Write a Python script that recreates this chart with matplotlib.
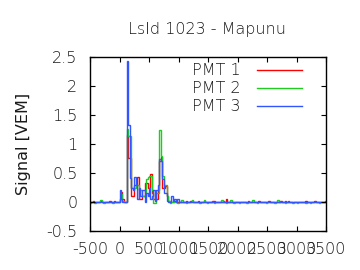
import numpy as np
import matplotlib
matplotlib.use("Agg")
import matplotlib.pyplot as plt

title = "LsId 1023 - Mapunu"
ylabel = "Signal [VEM]"
labels = ["PMT 1", "PMT 2", "PMT 3"]
colors = ["#ff0000", "#1fcc1f", "#3355ff"]

t_start = -500
bin_width = 25

# 160 bins of 25 ns from -500 to 3500
pmt1 = [
    0.00, 0.00, 0.02, 0.00, 0.00, 0.00, 0.00, 0.02, 0.00, 0.00, 0.00, 0.00, 0.00, 0.02, 0.00, 0.00, 0.02, 0.00, 0.00, 0.00,
    0.05, 0.17, 0.05, 0.00, 0.00, 1.15, 0.76, 0.76, 0.10, 0.10, 0.30, 0.30, 0.43, 0.05, 0.05, 0.10, 0.10, 0.33, 0.33, 0.25,
    0.25, 0.48, 0.15, 0.05, 0.05, 0.05, 0.20, 0.70, 0.78, 0.25, 0.25, 0.28, 0.10, 0.02, 0.00, 0.00, 0.00, 0.02, 0.00, 0.00,
    0.00, 0.00, 0.00, 0.00, 0.00, 0.02, 0.00, 0.00, 0.02, 0.02, 0.00, 0.00, 0.00, 0.02, 0.00, 0.00, 0.00, 0.02, 0.00, 0.00,
    0.00, 0.00, 0.00, 0.02, 0.02, 0.00, 0.00, 0.00, 0.00, 0.00, 0.02, 0.00, 0.05, 0.00, 0.00, 0.00, 0.00, 0.00, 0.00, 0.00,
    0.00, 0.00, 0.00, 0.00, 0.00, 0.00, 0.00, 0.02, 0.00, 0.00, 0.00, 0.00, 0.00, 0.00, 0.02, 0.00, 0.00, 0.00, 0.00, 0.00,
    0.00, 0.02, 0.00, 0.00, 0.00, 0.00, 0.00, 0.00, 0.00, 0.02, 0.00, 0.00, 0.02, 0.00, 0.02, 0.00, 0.00, 0.00, 0.00, 0.00,
    0.00, 0.00, 0.00, 0.00, 0.00, 0.00, 0.02, 0.00, 0.00, 0.00, 0.00, 0.00, 0.02, 0.00, 0.00, 0.00, 0.00, 0.00, 0.00, 0.02,
]
pmt2 = [
    -0.02, 0.00, 0.00, -0.02, 0.00, 0.00, 0.00, 0.03, 0.00, -0.02, 0.00, 0.00, 0.00, 0.00, 0.00, -0.02, 0.00, 0.00, 0.00, 0.00,
    0.05, 0.14, 0.02, 0.00, 0.00, 1.26, 1.14, 1.14, 0.25, 0.25, 0.25, 0.30, 0.30, 0.20, 0.20, 0.10, 0.10, 0.10, 0.40, 0.43,
    0.45, 0.45, 0.20, -0.01, -0.01, 0.15, 0.15, 1.24, 0.79, 0.45, 0.30, 0.30, 0.10, 0.02, -0.02, 0.00, 0.00, 0.00, 0.00, -0.02,
    0.00, 0.00, 0.03, 0.00, 0.00, -0.02, 0.00, 0.00, 0.00, 0.03, 0.00, 0.00, 0.00, 0.00, -0.02, 0.00, 0.00, 0.03, 0.00, -0.02,
    0.00, 0.00, 0.00, 0.00, -0.02, 0.00, 0.00, 0.00, 0.00, 0.03, 0.00, 0.00, -0.02, 0.00, 0.00, 0.03, 0.00, -0.02, 0.00, 0.00,
    0.00, -0.02, 0.00, 0.00, 0.00, 0.00, -0.02, 0.00, 0.00, 0.00, 0.03, 0.00, 0.00, -0.02, 0.00, 0.00, 0.00, 0.00, 0.00, -0.02,
    0.00, 0.00, 0.00, 0.00, 0.00, -0.02, 0.00, 0.03, 0.00, 0.00, 0.00, 0.00, -0.02, 0.00, 0.00, 0.00, 0.00, -0.02, 0.00, 0.00,
    -0.02, 0.00, 0.00, 0.00, 0.00, 0.00, -0.02, 0.00, 0.00, -0.02, 0.00, 0.00, 0.00, 0.00, 0.00, -0.02, 0.00, 0.00, 0.00, 0.00,
]
pmt3 = [
    0.00, 0.00, 0.00, 0.00, 0.00, 0.00, 0.00, 0.00, 0.00, 0.00, 0.00, 0.00, 0.00, 0.00, 0.00, 0.00, 0.00, 0.00, 0.00, 0.00,
    0.21, 0.05, 0.00, 0.00, 0.00, 2.43, 1.33, 0.41, 0.25, 0.20, 0.43, 0.30, 0.05, 0.25, 0.10, 0.20, 0.20, 0.00, 0.15, 0.10,
    0.25, 0.05, 0.10, 0.20, 0.02, 0.20, 0.30, 0.74, 0.70, 0.40, 0.15, 0.15, 0.02, 0.00, 0.00, 0.10, 0.02, 0.05, 0.00, 0.05,
    0.00, 0.00, 0.00, 0.00, 0.00, 0.00, 0.00, 0.00, 0.00, 0.00, 0.00, 0.00, 0.00, 0.00, 0.00, 0.00, 0.00, 0.00, 0.00, 0.00,
    0.00, 0.00, 0.00, 0.00, 0.00, 0.00, 0.00, 0.00, 0.00, 0.00, 0.00, 0.00, 0.00, 0.00, 0.00, 0.00, 0.00, 0.00, 0.00, 0.00,
    0.00, 0.00, 0.00, 0.00, 0.00, 0.00, 0.00, 0.00, 0.00, 0.00, 0.00, 0.00, 0.00, 0.00, 0.00, 0.00, 0.00, 0.00, 0.00, 0.00,
    0.00, 0.00, 0.00, 0.00, 0.00, 0.00, 0.00, 0.00, 0.00, 0.00, 0.00, 0.00, 0.00, 0.00, 0.00, 0.00, 0.00, 0.00, 0.00, 0.00,
    0.00, 0.00, 0.00, 0.00, 0.00, 0.00, 0.00, 0.00, 0.00, 0.00, 0.00, 0.00, 0.00, 0.00, 0.00, 0.00, 0.00, 0.00, 0.00, 0.00,
]

xticks = [-500, 0, 500, 1000, 1500, 2000, 2500, 3000, 3500]
yticks = [-0.5, 0, 0.5, 1, 1.5, 2, 2.5]
ytick_labels = ["-0.5", "0", "0.5", "1", "1.5", "2", "2.5"]

plt.rcParams['font.family'] = ['DejaVu Sans']
plt.rcParams['font.weight'] = 'light'
fs = 11.5
txt_col = '#1a1a1a'
fig = plt.figure(figsize=(3.6, 2.7), dpi=100)
ax = fig.add_axes([0.25, 0.1444, 0.6556, 0.6445])

series = [pmt1, pmt2, pmt3]
n = len(pmt1)
edges = t_start + bin_width * np.arange(n + 1)
for vals, lab, col in zip(series, labels, colors):
    ax.stairs(vals, edges, color=col, linewidth=1.0, label=lab, baseline=None)

ax.set_xlim(-500, 3500)
ax.set_ylim(-0.5, 2.5)
ax.set_xticks(xticks)
ax.set_xticklabels([str(v) for v in xticks])
ax.set_yticks(yticks)
ax.set_yticklabels(ytick_labels)
ax.tick_params(direction='in', length=3.5, width=0.8, top=True, right=True,
               labelsize=fs, labelcolor=txt_col, color='black')
ax.tick_params(axis='y', pad=9)
ax.tick_params(axis='x', pad=8)
for s in ax.spines.values():
    s.set_linewidth(1.0)
ax.set_ylabel(ylabel, fontsize=fs, color=txt_col, labelpad=11)
fig.text(0.575, 0.89, title, ha='center', va='center', fontsize=fs, color=txt_col)

leg = ax.legend(loc='upper right', bbox_to_anchor=(0.937, 1.02), frameon=False,
                markerfirst=False, fontsize=fs, handlelength=2.8,
                handletextpad=1.0, labelspacing=0.2, borderaxespad=0.2)
for t in leg.get_texts():
    t.set_color(txt_col)

fig.savefig("out.png", dpi=100)
